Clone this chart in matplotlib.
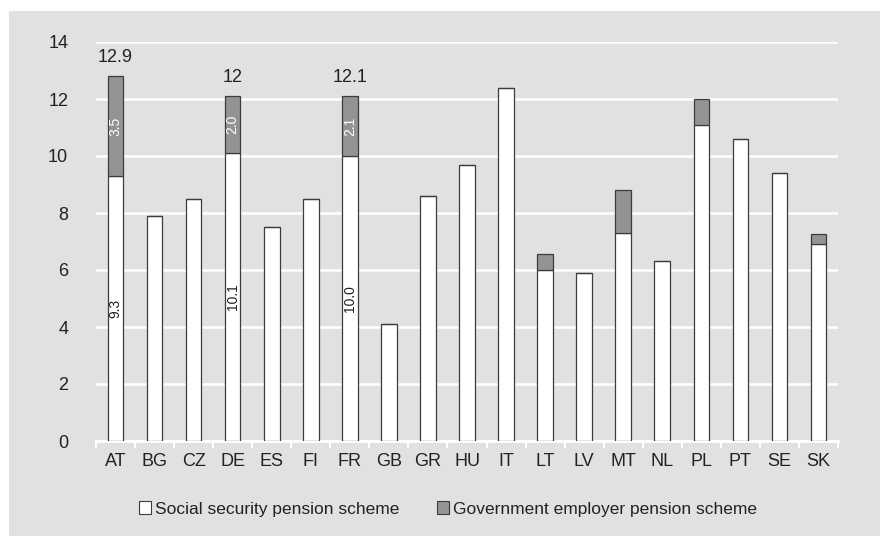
import matplotlib
matplotlib.use("Agg")
import matplotlib.pyplot as plt
from matplotlib.patches import Rectangle, Patch
from matplotlib import font_manager
import numpy as np

categories = ["AT", "BG", "CZ", "DE", "ES", "FI", "FR", "GB", "GR", "HU",
              "IT", "LT", "LV", "MT", "NL", "PL", "PT", "SE", "SK"]
social = [9.3, 7.9, 8.5, 10.1, 7.5, 8.5, 10.0, 4.1, 8.6, 9.7,
          12.4, 6.0, 5.9, 7.3, 6.3, 11.1, 10.6, 9.4, 6.9]
government = [3.5, 0, 0, 2.0, 0, 0, 2.1, 0, 0, 0,
              0, 0.55, 0, 1.5, 0, 0.9, 0, 0, 0.35]
total_labels = {"AT": "12.9", "DE": "12", "FR": "12.1"}
inner_labels = {"AT": ("9.3", "3.5"), "DE": ("10.1", "2.0"), "FR": ("10.0", "2.1")}
yticks = [0, 2, 4, 6, 8, 10, 12, 14]
series_names = ["Social security pension scheme", "Government employer pension scheme"]

avail = {f.name for f in font_manager.fontManager.ttflist}
narrow = "Liberation Sans Narrow" in avail
fam = ["Liberation Sans Narrow"] if narrow else ["Liberation Sans"]
plt.rcParams["font.family"] = fam + ["DejaVu Sans"]
fs_tick = 15 if narrow else 13
fs_leg = 15 if narrow else 12.5
fs_in = 11 if narrow else 10

panel = "#e0e1e3"
dark = "#939396"
edge = "#3c3c3c"
txt = "#222222"

fig = plt.figure(figsize=(8.8, 5.36), dpi=100)
fig.patch.set_facecolor("white")
fig.add_artist(Rectangle((9 / 880, 0), 1 - 9 / 880, 1 - 11 / 536,
                         transform=fig.transFigure, facecolor=panel,
                         edgecolor="none", zorder=-10))

ax = fig.add_axes([96 / 880, 1 - 441 / 536, 742 / 880, (441 - 42) / 536])
ax.set_facecolor("none")
x = np.arange(len(categories))
w = 0.4
ax.bar(x, social, w, color="white", edgecolor=edge, linewidth=0.9, zorder=3)
ax.bar(x, government, w, bottom=social, color=dark, edgecolor=edge,
       linewidth=0.9, zorder=3)

for i, c in enumerate(categories):
    if c in inner_labels:
        lo, hi = inner_labels[c]
        ax.text(x[i], social[i] / 2, lo, rotation=90, ha="center", va="center",
                fontsize=fs_in, color=txt, zorder=5)
        ax.text(x[i], social[i] + government[i] / 2, hi, rotation=90,
                ha="center", va="center", fontsize=fs_in, color="white", zorder=5)
    if c in total_labels:
        ax.annotate(total_labels[c], (x[i], social[i] + government[i]),
                    xytext=(0, 7), textcoords="offset points", ha="center",
                    va="bottom", fontsize=fs_tick, color=txt, zorder=5,
                    annotation_clip=False)

ax.set_xlim(-0.5, len(categories) - 0.5)
ax.set_ylim(0, 14)
ax.set_yticks(yticks)
ax.set_yticklabels([str(v) for v in yticks])
ax.yaxis.grid(True, color="white", linewidth=1.8, zorder=0)
ax.set_axisbelow(True)
ax.tick_params(axis="y", length=0, pad=20, labelsize=fs_tick, labelcolor=txt)
ax.set_xticks(x)
ax.set_xticklabels(categories)
ax.tick_params(axis="x", length=0, pad=9, labelsize=fs_tick, labelcolor=txt)
ax.set_xticks(np.arange(len(categories) + 1) - 0.5, minor=True)
ax.tick_params(axis="x", which="minor", length=5, width=1.5, color="white")
for s in ["top", "right", "left"]:
    ax.spines[s].set_visible(False)
ax.spines["bottom"].set_color("white")
ax.spines["bottom"].set_linewidth(2)

handles = [Patch(facecolor="white", edgecolor=edge, linewidth=0.8),
           Patch(facecolor=dark, edgecolor=edge, linewidth=0.8)]
fig.legend(handles, series_names, loc="center", bbox_to_anchor=(448 / 880, 1 - 509 / 536),
           ncol=2, frameon=False, fontsize=fs_leg, handlelength=0.7, handleheight=0.7,
           handletextpad=0.2, columnspacing=2.2, labelcolor=txt)

fig.savefig("out.png", dpi=100, facecolor=fig.get_facecolor())
